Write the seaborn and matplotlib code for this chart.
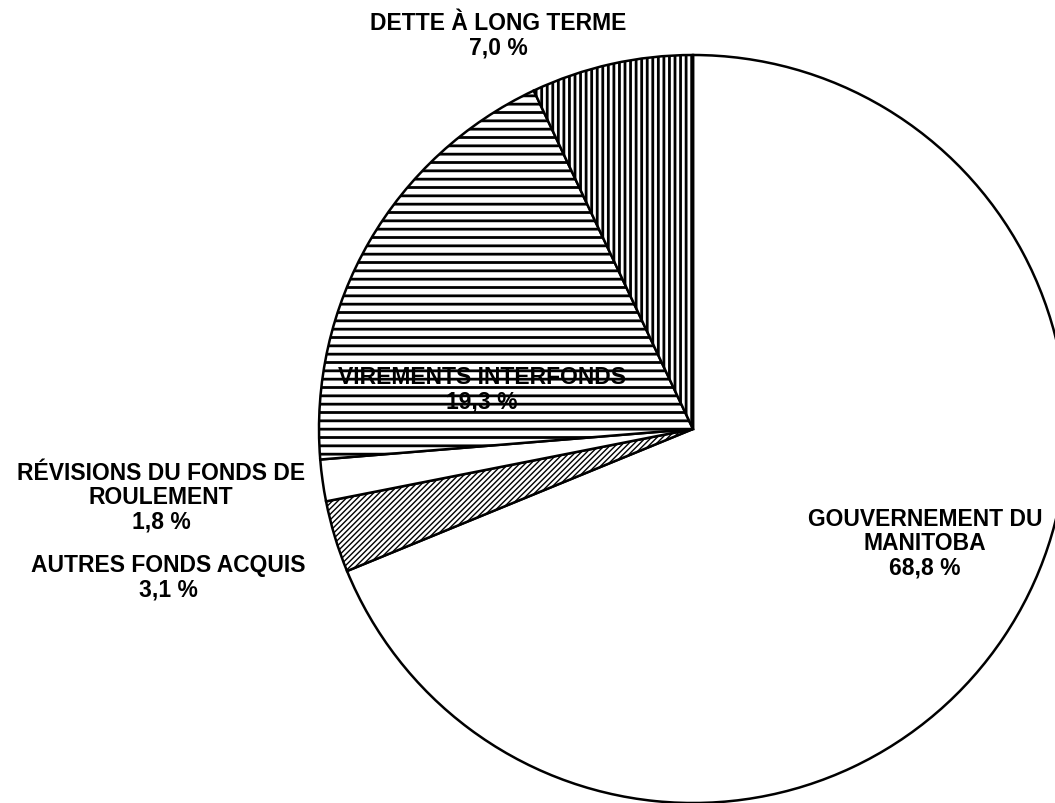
import matplotlib
matplotlib.use("Agg")
import matplotlib.pyplot as plt
import seaborn as sns

# Données (sens horaire depuis midi)
sources = ["GOUVERNEMENT DU\nMANITOBA", "AUTRES FONDS ACQUIS",
           "RÉVISIONS DU FONDS DE\nROULEMENT", "VIREMENTS INTERFONDS",
           "DETTE À LONG TERME"]
parts = [68.8, 3.1, 1.8, 19.3, 7.0]
motifs = ["", "//////", "", "--", "|||"]

# position des étiquettes (pixels dans l'image)
pos_etiq = [(925, 544), (168, 578), (161, 498), (482, 390), (498, 36)]

sns.set_theme(style="white")
plt.rcParams["font.family"] = ["Liberation Sans", "DejaVu Sans"]
plt.rcParams["hatch.linewidth"] = 2.0
plt.rcParams["text.color"] = "black"

W, H = 1055, 804
cx, cy, R = 693, 430, 374

fig = plt.figure(figsize=(W / 100, H / 100), dpi=100)
ax = fig.add_axes([0, 0, 1, 1])
wedges, _ = ax.pie(parts, startangle=90, counterclock=False,
                   colors=["white"] * len(parts),
                   wedgeprops=dict(edgecolor="black", linewidth=1.8))
for w, h in zip(wedges, motifs):
    w.set_hatch(h)
    if h.startswith("/") and hasattr(w, "set_hatch_linewidth"):
        w.set_hatch_linewidth(1.0)

ax.set_xlim(-cx / R, (W - cx) / R)
ax.set_ylim(-(H - cy) / R, cy / R)
ax.set_aspect("equal")
ax.axis("off")

for nom, v, (px, py) in zip(sources, parts, pos_etiq):
    txt = f"{nom}\n{v:.1f} %".replace(".", ",")
    fig.text(px / W, 1 - py / H, txt, ha="center", va="center",
             fontsize=16.5, fontweight="bold", color="black",
             multialignment="center", linespacing=1.08)

fig.savefig("out.png", dpi=100, facecolor="white")
